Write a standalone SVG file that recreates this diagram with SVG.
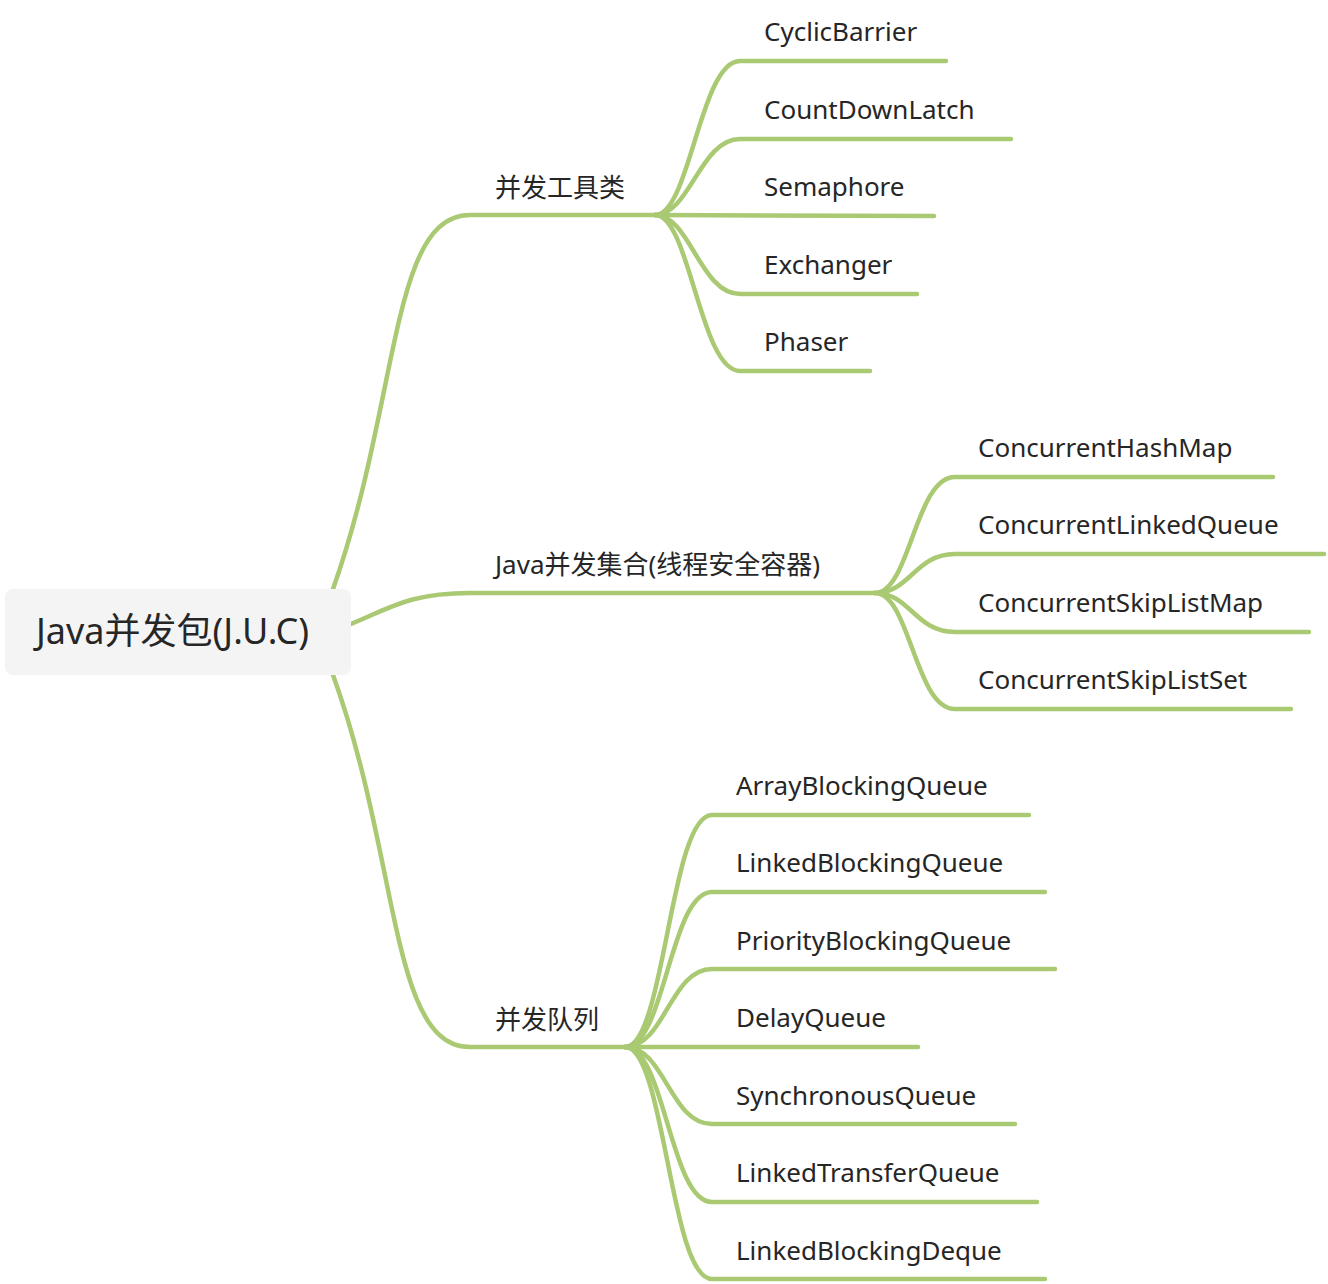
<svg xmlns="http://www.w3.org/2000/svg" width="1328" height="1284" viewBox="0 0 1328 1284">
<style>
.c{fill:none;stroke:#a9c972;stroke-width:4.5;stroke-linecap:round}
text{font-family:"Noto Sans","Noto Sans CJK SC",sans-serif;fill:#262626;font-size:26px}
</style>
<rect width="1328" height="1284" fill="#fff"/>
<g id="connectors">
<path class="c" d="M333 589 C400 400 390 215 470 215 L655 215"/>
<path class="c" d="M351 624 C390 608 410 593 470 593 L875 593"/>
<path class="c" d="M333 675 C400 860 390 1047 470 1047 L625 1047"/>
<path class="c" d="M655 215 C690 215 700 61 740 61 L946 61"/>
<path class="c" d="M655 215 C690 215 700 139 740 139 L1011 139"/>
<path class="c" d="M655 215 L934 216"/>
<path class="c" d="M655 215 C690 215 700 294 740 294 L917 294"/>
<path class="c" d="M655 215 C690 215 700 371 740 371 L870 371"/>
<path class="c" d="M875 593 C910 593 915 477 955 477 L1273 477"/>
<path class="c" d="M875 593 C910 593 915 554 955 554 L1324 554"/>
<path class="c" d="M875 593 C910 593 915 632 955 632 L1309 632"/>
<path class="c" d="M875 593 C910 593 915 709 955 709 L1291 709"/>
<path class="c" d="M625 1047 C665 1047 670 815 712 815 L1029 815"/>
<path class="c" d="M625 1047 C665 1047 670 892 712 892 L1045 892"/>
<path class="c" d="M625 1047 C665 1047 670 969 712 969 L1055 969"/>
<path class="c" d="M625 1047 L918 1047"/>
<path class="c" d="M625 1047 C665 1047 670 1124 712 1124 L1015 1124"/>
<path class="c" d="M625 1047 C665 1047 670 1202 712 1202 L1037 1202"/>
<path class="c" d="M625 1047 C665 1047 670 1279 712 1279 L1045 1279"/>
</g>
<g id="root"><rect x="5" y="589" width="346" height="86" rx="8" fill="#f4f4f4"/><text x="36" y="644" style="font-size:36px">Java并发包(J.U.C)</text></g>
<g id="b1"><text x="495" y="197">并发工具类</text></g>
<g id="b2"><text x="495" y="574">Java并发集合(线程安全容器)</text></g>
<g id="b3"><text x="495" y="1029">并发队列</text></g>
<g id="n1"><text x="764" y="41">CyclicBarrier</text></g>
<g id="n2"><text x="764" y="119">CountDownLatch</text></g>
<g id="n3"><text x="764" y="196">Semaphore</text></g>
<g id="n4"><text x="764" y="274">Exchanger</text></g>
<g id="n5"><text x="764" y="351">Phaser</text></g>
<g id="n6"><text x="978" y="457">ConcurrentHashMap</text></g>
<g id="n7"><text x="978" y="534">ConcurrentLinkedQueue</text></g>
<g id="n8"><text x="978" y="612">ConcurrentSkipListMap</text></g>
<g id="n9"><text x="978" y="689">ConcurrentSkipListSet</text></g>
<g id="n10"><text x="736" y="795">ArrayBlockingQueue</text></g>
<g id="n11"><text x="736" y="872">LinkedBlockingQueue</text></g>
<g id="n12"><text x="736" y="950">PriorityBlockingQueue</text></g>
<g id="n13"><text x="736" y="1027">DelayQueue</text></g>
<g id="n14"><text x="736" y="1105">SynchronousQueue</text></g>
<g id="n15"><text x="736" y="1182">LinkedTransferQueue</text></g>
<g id="n16"><text x="736" y="1260">LinkedBlockingDeque</text></g>
</svg>
